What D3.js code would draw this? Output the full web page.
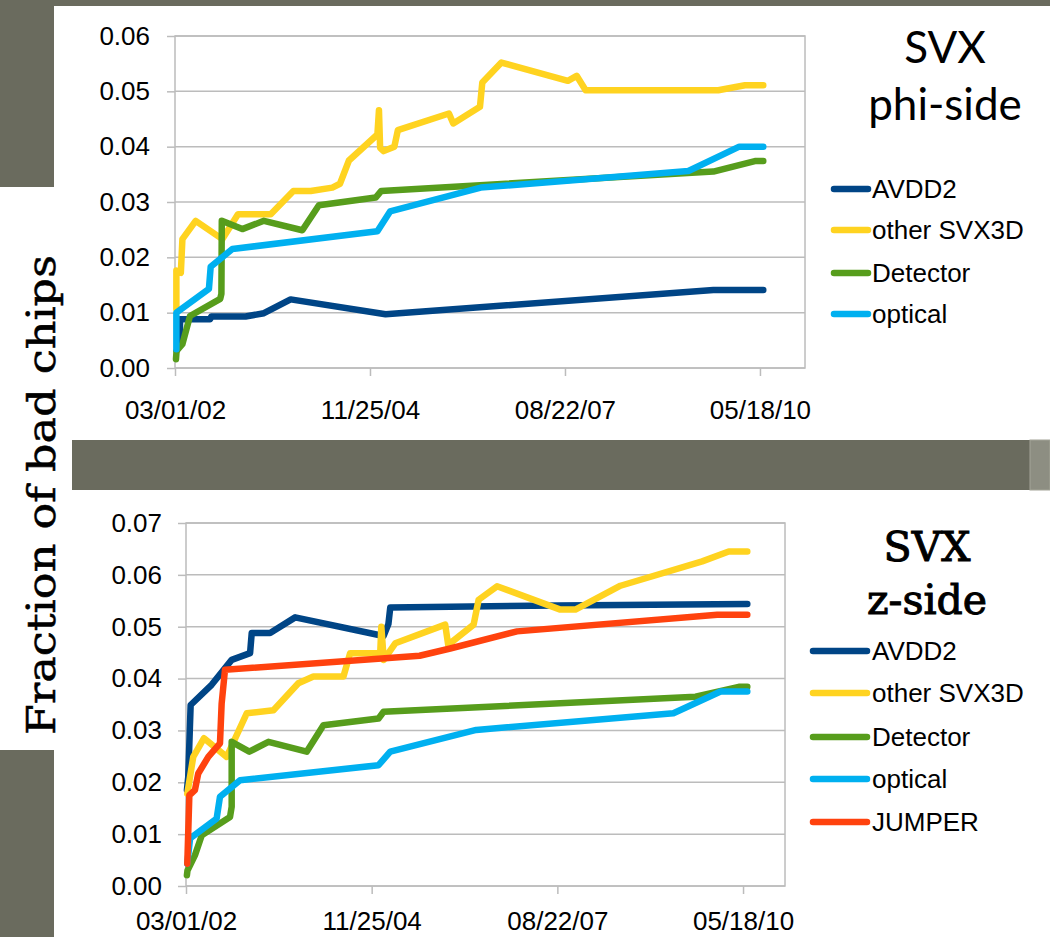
<title>SVX bad chips</title>
<body></body>
<style>
  body { margin:0; background:#fff; }
  svg { display:block; }
  text { font-family: "Liberation Sans", Arial, sans-serif; fill:#000; }
  .tick line, .grid line, .frame { stroke:#bcbcbc; stroke-width:1.5; }
  .series { fill:none; stroke-width:6.5; stroke-linecap:round; stroke-linejoin:round; }
</style>
<script src="https://d3js.org/d3.v7.min.js"></script>
<script>
// x tick labels (date axis), series x values are days after the first one
tickLabels = ['03/01/02', '11/25/04', '08/22/07', '05/18/10']
seriesNames = ['AVDD2', 'other SVX3D', 'Detector', 'optical', 'JUMPER']
colors = ['#004586', '#ffd320', '#579d1c', '#00b0f0', '#ff420e']

// phi-side: [day, fraction of bad chips]
phiAVDD2 = [[9,0.0031],[15,0.0036],[24,0.0040],[26,0.0088],[180,0.0088],[186,0.0093],[362,0.0093],[456,0.0099],[593,0.0124],[1080,0.0097],[2761,0.0141],[3017,0.0141]]
phiOther = [[7,0.0106],[7,0.0176],[30,0.0172],[38,0.0233],[106,0.0266],[243,0.0233],[323,0.0278],[491,0.0278],[607,0.0320],[696,0.0320],[807,0.0326],[846,0.0333],[892,0.0375],[1038,0.0422],[1046,0.0466],[1052,0.0398],[1070,0.0392],[1125,0.0400],[1143,0.0430],[1405,0.0460],[1427,0.0442],[1564,0.0472],[1576,0.0516],[1674,0.0552],[2015,0.0519],[2060,0.0528],[2106,0.0502],[2786,0.0502],[2923,0.0511],[3017,0.0511]]
phiDetector = [[5,0.0016],[8,0.0031],[38,0.0043],[77,0.0094],[232,0.0125],[238,0.0134],[240,0.0266],[345,0.0251],[456,0.0266],[653,0.0249],[738,0.0294],[1029,0.0308],[1058,0.0320],[2761,0.0355],[2974,0.0374],[3017,0.0374]]
phiOptical = [[7,0.0034],[7,0.0100],[174,0.0143],[183,0.0183],[294,0.0215],[1038,0.0247],[1103,0.0283],[1568,0.0326],[2633,0.0356],[2894,0.0400],[3017,0.0400]]

// z-side
zAVDD2 = [[5,0.0185],[12,0.0210],[25,0.0349],[138,0.0388],[246,0.0436],[345,0.0449],[354,0.0488],[453,0.0488],[588,0.0518],[1064,0.0482],[1090,0.0505],[1100,0.0537],[2000,0.0541],[3023,0.0544]]
zOther = [[7,0.0178],[39,0.0249],[97,0.0285],[219,0.0249],[327,0.0333],[471,0.0339],[605,0.0391],[686,0.0404],[848,0.0404],[884,0.0449],[1046,0.0449],[1052,0.0500],[1065,0.0436],[1127,0.0468],[1396,0.0504],[1412,0.0465],[1549,0.0504],[1576,0.0552],[1675,0.0578],[2016,0.0533],[2097,0.0533],[2340,0.0579],[2780,0.0626],[2923,0.0645],[3023,0.0645]]
zDetector = [[5,0.0021],[8,0.0030],[48,0.0059],[85,0.0098],[237,0.0133],[246,0.0153],[246,0.0278],[341,0.0259],[444,0.0278],[650,0.0259],[740,0.0310],[1037,0.0323],[1064,0.0336],[2744,0.0365],[2977,0.0384],[3023,0.0384]]
zOptical = [[7,0.0043],[22,0.0092],[165,0.0130],[183,0.0172],[291,0.0204],[1037,0.0233],[1100,0.0259],[1563,0.0301],[2625,0.0333],[2879,0.0375],[3023,0.0375]]
zJumper = [[7,0.0043],[18,0.0175],[48,0.0185],[66,0.0217],[120,0.0249],[183,0.0275],[192,0.0352],[210,0.0417],[1258,0.0444],[1423,0.0458],[1783,0.0491],[2861,0.0523],[3023,0.0523]]

parseDate = d3.utcParse('%m/%d/%y')
tickDates = tickLabels.map(parseDate)
start = tickDates[0]

svg = d3.select('body').append('svg')
    .attr('width', 1050)
    .attr('height', 937)

// slide background pieces
gray = '#6a6b5e'
bg = [[0,0,54,187],[54,0,996,6],[72,440,958,50],[0,750,54,187]]
svg.selectAll('rect.bg').data(bg).join('rect')
    .attr('x', d => d[0]).attr('y', d => d[1])
    .attr('width', d => d[2]).attr('height', d => d[3])
    .attr('fill', gray)
svg.append('rect').attr('x', 1030).attr('y', 440).attr('width', 20).attr('height', 50)
    .attr('fill', '#8d8e82').attr('stroke', '#a3a497')

function drawChart(cfg) {
  const g = svg.append('g')
  const x = d3.scaleUtc()
      .domain([start, d3.utcDay.offset(start, cfg.dayMax)])
      .range([cfg.left, cfg.right])
  const y = d3.scaleLinear().domain([0, cfg.yMax]).range([cfg.bottom, cfg.top])
  const yTicks = d3.range(0, Math.round(cfg.yMax * 100) + 1).map(d => d / 100)

  g.append('g').attr('class', 'grid').selectAll('line').data(yTicks).join('line')
      .attr('x1', cfg.left).attr('x2', cfg.right)
      .attr('y1', d => y(d)).attr('y2', d => y(d))

  g.append('rect').attr('class', 'frame').attr('fill', 'none')
      .attr('x', cfg.left).attr('y', cfg.top)
      .attr('width', cfg.right - cfg.left).attr('height', cfg.bottom - cfg.top)

  const ya = g.append('g').attr('transform', `translate(${cfg.left},0)`)
      .call(d3.axisLeft(y).tickValues(yTicks).tickFormat(d3.format('.2f'))
        .tickSize(8).tickPadding(cfg.yPad))
  const xa = g.append('g').attr('transform', `translate(0,${cfg.bottom})`)
      .call(d3.axisBottom(x).tickValues(tickDates).tickFormat((d, i) => tickLabels[i])
        .tickSize(8).tickPadding(cfg.xPad))
  ;[ya, xa].forEach(a => {
    a.select('.domain').remove()
    a.selectAll('text').attr('font-size', 26).attr('font-family', null)
  })

  const line = d3.line()
      .x(d => x(d3.utcDay.offset(start, d[0])))
      .y(d => y(d[1]))
  g.selectAll('path.series').data(cfg.series).join('path')
      .attr('class', 'series')
      .attr('stroke', (d, i) => colors[i])
      .attr('d', line)

  // legend
  const lg = g.selectAll('g.leg').data(cfg.series).join('g')
      .attr('transform', (d, i) => `translate(0,${cfg.legY[i]})`)
  lg.append('line').attr('class', 'series')
      .attr('x1', cfg.legX[0]).attr('x2', cfg.legX[1])
      .attr('stroke', (d, i) => colors[i])
  lg.append('text').attr('x', cfg.legX[2]).attr('dy', '0.35em')
      .attr('font-size', 26).text((d, i) => seriesNames[i])

  // title
  g.selectAll('text.title').data(cfg.title).join('text')
      .attr('x', cfg.titleX).attr('y', (d, i) => cfg.titleY[i])
      .attr('text-anchor', 'middle')
      .style('font-family', cfg.titleFont)
      .attr('font-size', cfg.titleSize)
      .attr('stroke', '#000').attr('stroke-width', cfg.titleStroke)
      .text(d => d)
}

drawChart({
  left: 175, right: 805, top: 36, bottom: 368, yMax: 0.06, dayMax: 3231,
  yPad: 17, xPad: 25,
  series: [phiAVDD2, phiOther, phiDetector, phiOptical],
  legX: [834, 868, 872], legY: [189, 230, 273, 314],
  title: ['SVX', 'phi-side'], titleX: 945, titleY: [63, 120],
  titleFont: 'Lato, "Open Sans", sans-serif', titleStroke: 0, titleSize: 44
})

drawChart({
  left: 186, right: 785, top: 523, bottom: 886, yMax: 0.07, dayMax: 3226,
  yPad: 16, xPad: 18,
  series: [zAVDD2, zOther, zDetector, zOptical, zJumper],
  legX: [813, 867, 872], legY: [651, 693, 737, 779, 822],
  title: ['SVX', 'z-side'], titleX: 927, titleY: [561, 614],
  titleFont: '"DejaVu Serif", serif', titleStroke: 1, titleSize: 41
})

// shared y title
svg.append('text')
    .attr('transform', 'translate(55,495) rotate(-90)')
    .attr('text-anchor', 'middle')
    .style('font-family', '"DejaVu Serif", serif')
    .attr('font-size', 40)
    .attr('stroke', '#000').attr('stroke-width', 0.5)
    .attr('textLength', 480).attr('lengthAdjust', 'spacingAndGlyphs')
    .text('Fraction of  bad chips')
</script>
